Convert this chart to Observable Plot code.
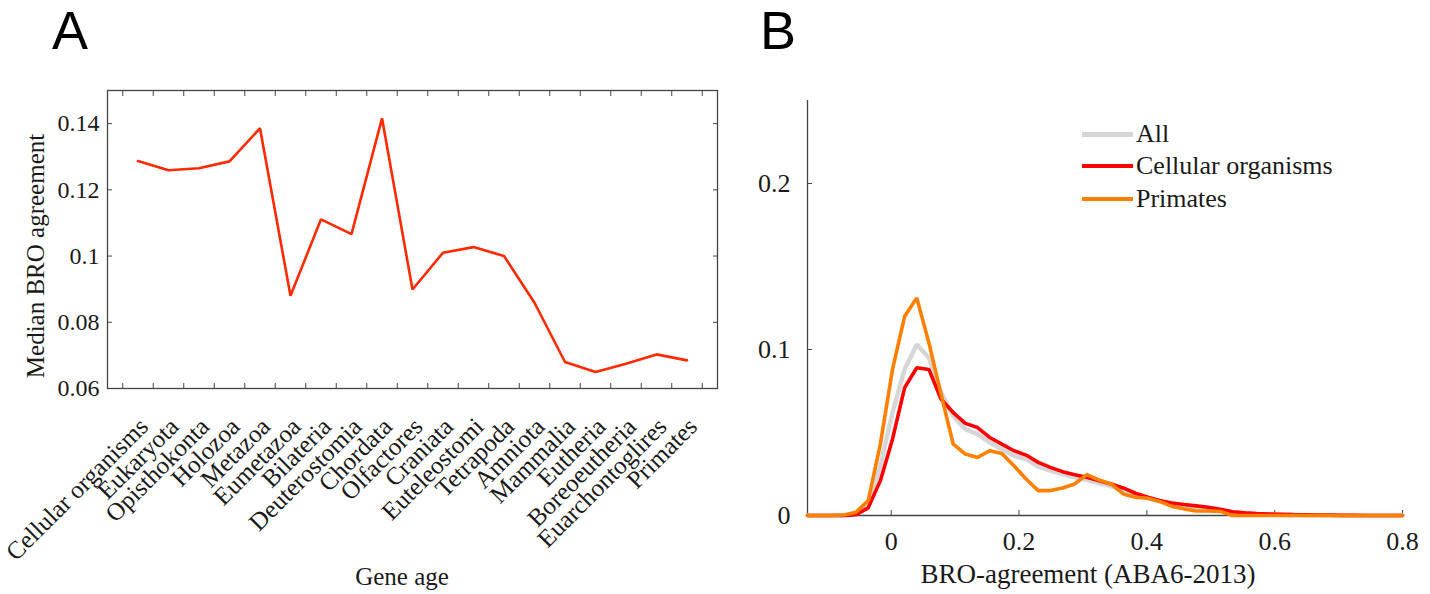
<!DOCTYPE html>
<html><head><meta charset="utf-8">
<script src="https://cdn.jsdelivr.net/npm/d3@7"></script>
<script src="https://cdn.jsdelivr.net/npm/@observablehq/plot@0.6"></script>
<style>
body{margin:0;background:#fff;}
#wrap{position:relative;width:1430px;height:594px;overflow:hidden;font-family:"Liberation Serif",serif;color:#1a1a1a;}
.abs{position:absolute;white-space:nowrap;line-height:1;}
.panel{position:absolute;top:0;}
.letter{font-family:"Liberation Sans",Arial,sans-serif;font-size:54px;color:#000;}
.legrow{position:absolute;left:1082px;display:flex;align-items:center;font-size:26px;line-height:26px;height:26px;white-space:nowrap;}
.sw{display:inline-block;width:51px;height:4px;margin-right:3px;}
</style></head><body>
<div id="wrap"></div>
<script>
// ---------- Panel A data ----------
const geneAges = ["Cellular organisms","Eukaryota","Opisthokonta","Holozoa","Metazoa","Eumetazoa","Bilateria","Deuterostomia","Chordata","Olfactores","Craniata","Euteleostomi","Tetrapoda","Amniota","Mammalia","Eutheria","Boreoeutheria","Euarchontoglires","Primates"];
const medianAgreement = [0.1287,0.1259,0.1265,0.1286,0.1386,0.0880,0.1111,0.1066,0.1416,0.0899,0.1010,0.1027,0.1000,0.0859,0.0680,0.0650,0.0675,0.0703,0.0685];
const yTicksA = [0.06,0.08,0.1,0.12,0.14];

// ---------- Panel B data ----------
const agreementBins = [-0.131,-0.112,-0.093,-0.074,-0.055,-0.036,-0.017,0.002,0.021,0.040,0.059,0.078,0.097,0.116,0.135,0.154,0.173,0.192,0.211,0.230,0.249,0.268,0.287,0.306,0.325,0.344,0.363,0.382,0.401,0.420,0.439,0.458,0.477,0.496,0.515,0.534,0.553,0.572,0.591,0.610,0.629,0.648,0.667,0.686,0.705,0.724,0.743,0.762,0.781,0.800];
const allGenes = [0,0,0,0,0.001,0.006,0.030,0.062,0.088,0.103,0.095,0.074,0.060,0.052,0.049,0.044,0.040,0.036,0.034,0.0295,0.027,0.025,0.023,0.0215,0.0195,0.0175,0.0155,0.013,0.011,0.0085,0.0068,0.0058,0.0048,0.004,0.003,0.0018,0.0012,0.0008,0.0006,0.0004,0.0003,0.0002,0.0001,0,0,0,0,0,0,0];
const cellularOrganisms = [0,0,0,0,0.0005,0.0046,0.021,0.046,0.077,0.089,0.088,0.070,0.062,0.0555,0.053,0.047,0.043,0.039,0.0364,0.032,0.029,0.0264,0.0246,0.023,0.021,0.019,0.0166,0.0134,0.011,0.009,0.0075,0.0066,0.0058,0.005,0.0038,0.0023,0.0016,0.0012,0.0009,0.0007,0.0005,0.0004,0.0003,0.0002,0.0001,0.0001,0,0,0,0];
const primates = [0,0,0,0.0003,0.002,0.009,0.043,0.088,0.120,0.131,0.104,0.073,0.043,0.037,0.035,0.039,0.0374,0.030,0.022,0.015,0.015,0.0166,0.019,0.0246,0.0214,0.019,0.013,0.011,0.0104,0.0085,0.0055,0.004,0.0027,0.0027,0.0025,0,0,0,0,0,0,0,0,0,0,0,0,0,0,0];
const xTicksB = [0,0.2,0.4,0.6,0.8];
const yTicksB = [0,0.1,0.2];
const seriesNames = ["All","Cellular organisms","Primates"];
const seriesColors = ["#d6d6d6","#ff0000","#ff8000"];

const fmt = d => d === 0 ? "0" : String(+d.toFixed(2));
const wrap = document.getElementById("wrap");

// ---------- Panel A ----------
const dataA = geneAges.map((name, i) => ({pos: i + 1, name, value: medianAgreement[i]}));
const catPos = dataA.map(d => d.pos);
const boundaryTicks = [0, ...catPos].map(p => p + 0.5);
const blank = () => "";

const plotA = Plot.plot({
  width: 740, height: 594,
  marginLeft: 107, marginRight: 23, marginTop: 90, marginBottom: 206,
  x: {domain: [0, 20], axis: null},
  y: {domain: [0.06, 0.15], axis: null},
  style: {fontFamily: "Liberation Serif, serif", color: "#1a1a1a", background: "transparent", overflow: "visible"},
  marks: [
    Plot.axisX(boundaryTicks, {anchor: "bottom", tickSize: -5, tickFormat: blank, label: null, stroke: "#444"}),
    Plot.axisX(boundaryTicks, {anchor: "top", tickSize: -5, tickFormat: blank, label: null, stroke: "#444"}),
    Plot.axisY(yTicksA, {anchor: "left", tickSize: -5, tickPadding: 13, tickFormat: fmt, label: null, fontSize: 24, stroke: "#444"}),
    Plot.axisY(yTicksA, {anchor: "right", tickSize: -5, tickFormat: blank, label: null, stroke: "#444"}),
    Plot.axisX(catPos, {anchor: "bottom", tickSize: 0, tickRotate: -45, tickPadding: 34, dx: 6, tickFormat: p => geneAges[p - 1], label: null, fontSize: 25}),
    Plot.frame({stroke: "#444", strokeWidth: 1.3}),
    Plot.line(dataA, {x: "pos", y: "value", stroke: "#ff2a00", strokeWidth: 2.6, strokeLinejoin: "miter"})
  ]
});
const pa = document.createElement("div");
pa.className = "panel"; pa.style.left = "0px";
pa.appendChild(plotA);
wrap.appendChild(pa);

// ---------- Panel B ----------
const seriesValues = [allGenes, cellularOrganisms, primates];
const plotB = Plot.plot({
  width: 710, height: 594,
  marginLeft: 87, marginRight: 28, marginTop: 100, marginBottom: 79,
  x: {domain: [agreementBins[0], 0.8], axis: null},
  y: {domain: [0, 0.25], axis: null},
  style: {fontFamily: "Liberation Serif, serif", color: "#1a1a1a", background: "transparent", overflow: "visible"},
  marks: [
    Plot.ruleX([agreementBins[0]], {stroke: "#444", strokeWidth: 1.3}),
    Plot.ruleY([0], {stroke: "#444", strokeWidth: 1.3}),
    Plot.axisX(xTicksB, {anchor: "bottom", tickSize: -5, tickPadding: 21, tickFormat: fmt, label: null, fontSize: 26, stroke: "#444"}),
    Plot.axisY(yTicksB, {anchor: "left", tickSize: -5, tickPadding: 22, tickFormat: fmt, label: null, fontSize: 26, stroke: "#444"}),
    ...seriesValues.map((vals, s) => Plot.line(agreementBins, {
      x: d => d, y: (d, i) => vals[i],
      stroke: seriesColors[s], strokeWidth: s === 0 ? 4.5 : 3.6, strokeLinejoin: "miter"
    }))
  ]
});
const pb = document.createElement("div");
pb.className = "panel"; pb.style.left = "720px";
pb.appendChild(plotB);
wrap.appendChild(pb);

// ---------- Titles, letters, legend ----------
function addText(txt, css, cls = "abs") {
  const d = document.createElement("div");
  d.className = cls; d.textContent = txt;
  Object.assign(d.style, css);
  wrap.appendChild(d);
  return d;
}
addText("A", {left: "52px", top: "3px"}, "abs letter");
addText("B", {left: "760px", top: "3px"}, "abs letter");
addText("Median BRO agreement", {left: "35px", top: "256px", fontSize: "25px", transform: "translate(-50%,-50%) rotate(-90deg)"});
addText("Gene age", {left: "402px", top: "564px", fontSize: "25px", transform: "translateX(-50%)"});
addText("BRO-agreement (ABA6-2013)", {left: "1088px", top: "561px", fontSize: "27px", transform: "translateX(-50%)"});

seriesNames.forEach((name, s) => {
  const row = document.createElement("div");
  row.className = "legrow";
  row.style.top = (121 + s * 32.3) + "px";
  const sw = document.createElement("span");
  sw.className = "sw"; sw.style.background = seriesColors[s];
  if (s === 0) sw.style.height = "5px";
  row.appendChild(sw);
  row.appendChild(document.createTextNode(name));
  wrap.appendChild(row);
});
</script>
</body></html>
